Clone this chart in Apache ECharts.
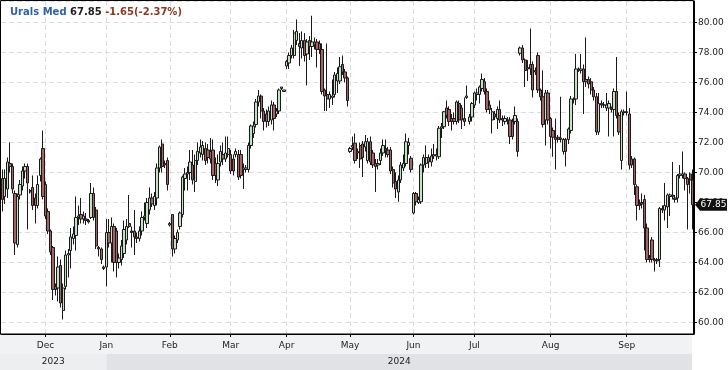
<!DOCTYPE html>
<html><head><meta charset="utf-8">
<script src="https://cdn.jsdelivr.net/npm/echarts@6/dist/echarts.min.js"></script>
<style>html,body{margin:0;padding:0;background:#fff}#c{width:728px;height:370px}</style>
</head><body><div id="c"></div>
<script>
const seriesName = 'Urals Med';
const monthNames = ['Nov','Dec','Jan','Feb','Mar','Apr','May','Jun','Jul','Aug','Sep'];
const years = ['2023','2024'];
const yearFirstMonth = [0, 2];
// candles: [open, close, low, high]
const nov = [[69.6,68.2,67.4,70.2],[68.4,69.6,67.9,70.2],[68.9,70.7,68.3,71.0],[70.6,70.4,70.0,72.0],[70.4,68.9,68.6,70.6],[68.6,65.3,64.5,68.8],[65.2,68.4,65.0,68.6],[68.5,69.2,68.2,69.5],[69.1,70.1,68.8,70.4],[70.1,70.4,69.6,70.6],[70.4,69.3,66.2,70.6],[68.8,68.7,68.6,68.9],[69.0,67.8,67.5,69.8],[68.3,67.8,66.6,68.6],[67.8,69.2,67.6,69.8],[69.8,70.9,69.4,71.0],[71.6,68.4,68.2,72.8]];
const dec = [[69.2,67.1,66.9,69.4],[67.4,66.1,65.9,67.6],[66.1,64.7,64.5,66.2],[65.0,62.2,61.5,65.1],[62.4,62.2,61.8,62.6],[62.3,63.7,61.4,64.4],[63.8,61.3,61.0,64.2],[60.8,62.3,60.2,62.6],[62.4,64.5,62.2,64.8],[64.5,64.6,63.0,64.9],[64.8,65.7,63.6,66.3],[65.6,65.9,65.2,66.4],[65.8,67.0,64.8,68.4],[67.0,67.1,66.5,67.8],[67.2,66.9,66.6,68.3],[66.9,67.1,66.6,67.4],[66.9,66.8,66.5,67.3],[66.8,66.7,66.6,66.9],[67.0,68.6,66.9,69.3],[68.6,67.0,66.8,69.0],[67.5,65.1,64.9,67.7],[65.0,64.9,64.4,65.1],[64.9,64.2,63.9,65.0],[63.7,63.6,63.5,63.8]];
const jan = [[63.7,66.0,62.4,66.9],[66.0,65.3,65.0,66.9],[65.3,66.4,64.0,67.0],[66.4,64.0,63.4,66.6],[66.1,64.0,63.0,66.3],[64.0,64.3,63.6,64.6],[64.2,65.1,63.8,65.5],[64.6,66.2,64.3,66.8],[65.5,66.4,65.2,66.9],[66.6,66.4,66.3,68.5],[66.1,66.0,65.0,66.4],[66.1,65.7,64.5,67.5],[65.7,65.6,65.3,66.0],[65.6,66.1,65.4,66.4],[66.1,67.0,65.8,67.4],[67.0,67.1,66.8,68.0],[66.6,68.0,66.3,68.3],[67.5,68.3,67.2,69.0],[68.3,67.9,67.7,68.6],[67.8,68.4,67.5,68.7],[68.3,70.3,67.8,70.6],[70.3,71.7,70.0,71.8],[71.9,70.4,70.0,72.2],[70.6,70.5,70.3,70.8],[70.8,69.2,68.8,71.0]];
const feb = [[66.5,66.6,66.4,66.7],[67.2,64.9,64.4,67.2],[64.9,65.6,64.6,65.8],[65.5,66.0,65.3,66.2],[66.4,67.3,66.2,67.4],[67.2,69.7,67.0,69.8],[69.6,69.9,68.8,70.3],[69.9,70.0,68.8,70.4],[70.0,70.7,69.5,71.5],[70.5,69.5,69.2,71.5],[69.4,70.8,68.7,71.2],[70.8,71.4,70.5,72.0],[71.3,71.7,71.0,72.2],[71.2,71.8,70.8,72.1],[71.6,70.8,70.5,72.0],[71.5,71.0,70.6,71.9],[71.4,70.9,70.6,72.3],[71.5,69.8,69.5,72.2],[70.6,69.8,69.3,71.0],[69.5,70.6,69.1,71.2],[70.7,71.4,70.4,71.8],[71.2,70.9,70.5,72.0],[70.9,71.3,70.7,72.4],[71.2,71.6,71.0,72.4]];
const mar = [[71.2,70.1,69.9,71.5],[70.9,70.1,69.8,71.2],[71.2,71.4,71.0,71.6],[71.2,69.7,69.5,71.5],[71.2,69.8,69.6,71.5],[70.2,70.3,68.9,70.6],[70.2,70.3,70.0,70.5],[70.2,71.8,70.0,72.0],[71.8,73.1,71.6,73.2],[72.6,73.1,72.3,73.4],[73.2,74.7,73.0,74.9],[74.7,75.1,74.4,75.5],[75.1,74.1,73.6,75.2],[74.1,73.4,72.8,74.3],[73.9,73.4,73.0,74.2],[73.4,74.1,73.1,74.4],[73.5,74.5,73.2,74.8],[74.5,73.6,72.8,74.7],[73.9,74.1,73.7,74.3],[74.1,75.5,73.9,75.6],[75.6,75.7,75.5,75.7],[75.4,75.5,75.4,75.5]];
const apr = [[77.1,77.4,76.9,77.5],[77.3,77.8,76.9,78.0],[77.8,78.3,77.6,78.5],[77.8,79.3,77.6,79.5],[78.8,79.4,78.5,80.2],[78.6,78.4,77.1,79.3],[78.3,78.8,77.6,79.4],[78.8,77.8,77.4,79.3],[77.9,78.7,75.8,78.9],[78.8,78.4,77.5,79.1],[78.4,78.7,77.7,80.45],[78.7,78.5,78.2,79.0],[78.7,78.2,77.0,78.9],[78.6,78.2,77.9,78.8],[78.2,75.4,75.2,78.6],[75.5,75.1,74.1,75.6],[75.2,74.9,74.1,78.6],[74.9,75.2,74.3,75.4],[75.0,75.1,74.5,76.2],[75.2,76.5,75.0,76.7],[76.1,76.6,75.3,77.0],[76.1,77.05,75.9,77.7],[77.2,76.7,76.5,77.8],[76.7,76.3,76.0,76.9],[76.3,74.8,74.4,76.4]];
const may = [[71.4,71.6,71.3,71.7],[71.7,71.8,71.5,72.4],[71.95,70.8,70.6,72.6],[71.4,71.3,70.9,71.6],[71.8,70.9,70.3,72.0],[71.9,71.0,69.7,72.1],[71.7,72.05,71.4,72.5],[70.8,72.05,70.6,72.3],[72.05,70.7,70.5,72.4],[71.3,70.5,70.3,71.5],[70.6,70.4,68.7,70.9],[70.5,70.6,70.2,70.9],[70.8,71.3,70.5,71.6],[71.3,71.8,71.1,72.2],[71.6,71.5,71.0,72.2],[71.5,71.2,71.0,71.7],[71.5,70.1,69.9,71.7],[70.2,69.3,69.0,70.4],[69.4,68.9,68.3,70.0],[68.7,69.5,68.05,69.8],[69.5,70.5,69.3,70.7],[70.3,70.6,70.1,71.2],[70.6,72.05,70.4,72.6],[71.8,72.0,71.2,72.3],[70.95,70.2,70.0,71.1]];
const jun = [[67.3,68.6,67.2,68.7],[68.6,68.05,67.8,68.7],[68.0,68.2,67.9,68.4],[68.05,70.5,67.9,70.6],[70.5,71.0,70.0,71.2],[70.6,71.0,70.3,71.8],[71.0,70.7,70.3,71.2],[70.7,71.1,70.4,71.6],[71.1,71.2,70.9,71.9],[71.1,71.2,70.8,71.6],[71.05,72.95,70.9,73.1],[72.95,73.05,72.3,73.3],[73.05,74.05,72.9,74.1],[74.3,73.8,73.6,74.8],[74.2,73.4,73.1,74.4],[73.6,73.4,72.8,73.9],[73.6,73.4,73.2,74.0],[73.4,74.7,73.2,74.8],[74.6,73.5,73.3,74.8],[74.3,73.5,72.9,74.5],[73.6,73.4,73.1,75.0],[75.0,75.1,74.9,75.8],[73.4,73.7,73.2,73.9],[73.7,74.6,73.4,74.7]];
const jul = [[74.5,75.3,74.3,75.4],[75.2,75.3,74.8,75.6],[75.2,75.7,74.6,75.8],[75.6,76.2,75.4,76.6],[76.05,75.4,75.2,76.3],[75.4,74.2,74.0,75.6],[74.5,74.2,73.9,74.8],[73.5,74.05,72.6,74.3],[73.9,73.7,73.5,74.1],[73.6,74.2,72.9,74.4],[74.2,73.5,73.3,74.8],[73.6,73.5,73.1,73.8],[73.4,73.6,73.2,73.8],[73.5,73.5,73.2,73.7],[73.5,72.4,71.9,73.7],[73.4,72.4,72.2,73.6],[73.4,73.8,73.2,74.4],[73.4,71.4,71.05,73.6],[77.95,78.3,77.8,78.4],[78.3,77.5,77.3,78.5],[77.5,76.8,75.7,77.6],[77.0,76.9,76.1,77.5],[77.2,76.9,76.5,79.6],[77.2,75.5,75.0,77.4],[76.8,76.7,76.5,77.0],[77.8,75.5,75.3,78.0],[75.5,75.05,74.8,75.6],[75.05,73.2,73.0,76.8],[73.5,75.3,71.8,75.5],[75.3,73.5,73.2,75.5]];
const aug = [[73.6,72.4,71.6,73.7],[72.8,72.35,71.05,73.0],[72.35,72.2,70.2,73.6],[72.35,72.2,72.0,72.5],[72.3,72.2,72.0,75.05],[71.4,72.2,71.2,72.3],[72.2,71.4,70.4,72.3],[72.2,72.9,71.9,73.0],[72.8,74.9,72.6,75.1],[74.85,74.9,74.6,75.0],[74.9,76.9,74.5,77.9],[76.85,76.9,76.7,77.0],[76.8,76.9,76.6,77.9],[76.9,76.05,73.9,77.2],[76.2,76.05,75.7,79.0],[76.2,75.9,75.6,76.4],[76.05,75.5,75.2,76.3],[75.5,75.05,74.8,75.7],[75.05,72.7,72.5,75.3],[72.7,74.6,72.5,75.3],[74.6,74.5,74.3,74.8],[74.5,74.5,74.3,74.7],[74.3,74.5,74.1,75.3],[74.3,74.6,72.4,74.8],[74.3,74.2,74.0,74.4],[74.2,75.4,72.4,75.6],[75.4,73.8,73.6,77.7],[73.8,72.7,72.5,74.0],[70.8,74.05,70.2,74.2],[74.05,74.0,73.8,74.2]];
const sep = [[74.05,74.0,73.8,75.4],[73.9,70.5,70.2,74.3],[70.9,70.5,70.3,71.1],[70.9,69.2,68.5,71.0],[69.05,67.8,66.8,69.2],[67.9,67.8,67.5,68.2],[68.0,67.9,67.6,68.6],[68.2,66.3,64.8,68.5],[66.3,64.2,64.0,66.6],[64.3,64.2,64.0,64.5],[65.5,64.2,64.0,65.7],[64.2,64.1,63.4,64.3],[64.2,64.1,63.9,64.3],[64.2,67.6,63.7,67.7],[67.6,67.5,67.3,67.8],[67.5,67.8,66.8,69.3],[67.7,68.5,66.3,68.6],[68.4,68.5,67.1,68.6],[68.5,68.4,68.2,70.7],[68.3,68.2,68.0,68.5],[68.3,69.8,68.0,69.9],[69.8,69.9,69.6,70.5],[69.8,69.9,69.6,71.4],[69.9,69.6,68.8,70.0],[69.6,69.2,66.2,69.7],[69.9,69.5,68.6,70.0],[69.5,67.85,66.2,70.2]];
const months = [nov, dec, jan, feb, mar, apr, may, jun, jul, aug, sep];

const candles = [];
const categories = [];
const monthStart = [];
months.forEach((m, mi) => {
  monthStart.push(candles.length);
  m.forEach((c, k) => { candles.push(c); categories.push(monthNames[mi] + ' ' + (k + 1)); });
});
const shownStarts = new Set(monthStart.slice(1));
const isMonthStart = (i) => shownStarts.has(i);

const lastClose = candles[candles.length - 1][1];
const prevClose = candles[candles.length - 2][1];
const chg = lastClose - prevClose;
const chgPct = chg / prevClose * 100;

const FONT = 'DejaVu Sans';
const G = { left: 1, right: 34, top: 1, bottom: 36 };
const W = 728, H = 370;

const chart = echarts.init(document.getElementById('c'), null, { renderer: 'canvas' });
chart.setOption({
  animation: false,
  backgroundColor: '#fff',
  textStyle: { fontFamily: FONT },
  grid: { left: G.left, right: G.right, top: G.top, bottom: G.bottom, show: false, containLabel: false, outerBoundsMode: 'none' },
  xAxis: {
    type: 'category', data: categories, boundaryGap: true,
    axisLine: { lineStyle: { color: '#000', width: 1 } },
    axisTick: { show: true, alignWithLabel: true, interval: isMonthStart, length: 3, lineStyle: { color: '#000' } },
    axisLabel: { interval: isMonthStart, formatter: (v) => v.split(' ')[0], fontSize: 9, color: '#222', fontFamily: FONT, margin: 7 },
    splitLine: { show: true, interval: isMonthStart, alignWithLabel: true, lineStyle: { color: '#dcdcdc', type: [5, 3], width: 1 } }
  },
  yAxis: {
    type: 'value', position: 'right', scale: true,
    min: 59.233, max: 81.433, splitNumber: 11, minInterval: 2, maxInterval: 2,
    axisLine: { show: true, lineStyle: { color: '#000' } },
    axisTick: { show: true, length: 3, lineStyle: { color: '#000' } },
    axisLabel: { formatter: (v) => v.toFixed(2), fontSize: 9, color: '#222', fontFamily: FONT, margin: 4, showMinLabel: false, showMaxLabel: false },
    splitLine: { show: true, lineStyle: { color: '#dcdcdc', type: [5, 3], width: 1 } }
  },
  series: [{
    name: seriesName, type: 'candlestick', data: candles, barWidth: 2.8,
    itemStyle: { color: '#c2e2c2', color0: '#a46262', borderColor: '#1a1a1a', borderColor0: '#1a1a1a', borderWidth: 1 }
  }]
});

// decorations derived from axes
const gx = (i) => chart.convertToPixel({ xAxisIndex: 0 }, categories[i]);
const plotRight = W - G.right;
const axisY = H - G.bottom;
const yearBounds = yearFirstMonth.map((m, k) => {
  const x0 = m === 0 ? 0 : gx(monthStart[m]);
  const x1 = k + 1 < yearFirstMonth.length ? gx(monthStart[yearFirstMonth[k + 1]]) : plotRight - 2;
  return [x0, x1];
});
const yearColors = ['#eceef0', '#e1e2e5'];
const py = chart.convertToPixel({ yAxisIndex: 0 }, lastClose);
const graphics = [
  { type: 'rect', z: -10, silent: true, shape: { x: 0, y: axisY + 1, width: plotRight - 2, height: 19 }, style: { fill: '#f1f2f4' } },
  { type: 'rect', z: 40, silent: true, shape: { x: G.left - 0.5, y: G.top - 0.5, width: plotRight - G.left, height: axisY - G.top + 0.5 }, style: { fill: 'none', stroke: '#000', lineWidth: 1 } }
];
years.forEach((yr, k) => {
  const [x0, x1] = yearBounds[k];
  graphics.push({ type: 'rect', z: -10, silent: true, shape: { x: x0, y: axisY + 20, width: x1 - x0, height: H - axisY - 20 }, style: { fill: yearColors[k] } });
  graphics.push({ type: 'text', z: 10, silent: true, x: (x0 + x1) / 2, y: axisY + 28, style: { text: yr, fontSize: 9, fontFamily: FONT, fill: '#222', align: 'center', verticalAlign: 'middle' } });
});
graphics.push({ type: 'polygon', z: 20, silent: true, shape: { points: [[plotRight + 1, py], [plotRight + 6, py - 6], [W - 1, py - 6], [W - 1, py + 6], [plotRight + 6, py + 6]] }, style: { fill: '#111' } });
graphics.push({ type: 'text', z: 21, silent: true, x: (plotRight + 6 + W - 1) / 2, y: py, style: { text: lastClose.toFixed(2), fontSize: 9, fontFamily: FONT, fill: '#fff', align: 'center', verticalAlign: 'middle' } });
graphics.push({ type: 'text', z: 30, silent: true, x: 10, y: 12, style: {
  text: '{a|' + seriesName + '} {b|' + lastClose.toFixed(2) + '} {c|' + (chg >= 0 ? '+' : '') + chg.toFixed(2) + '(' + (chg >= 0 ? '+' : '') + chgPct.toFixed(2) + '%)}',
  verticalAlign: 'middle', fontFamily: FONT, fontSize: 10, fontWeight: 'bold',
  rich: {
    a: { fontSize: 10, fontWeight: 'bold', fill: '#2d63a8', fontFamily: FONT },
    b: { fontSize: 10, fontWeight: 'bold', fill: '#222', fontFamily: FONT },
    c: { fontSize: 10, fontWeight: 'bold', fill: '#8a3a25', fontFamily: FONT }
  }
} });
chart.setOption({ graphic: graphics });
</script>
</body></html>
